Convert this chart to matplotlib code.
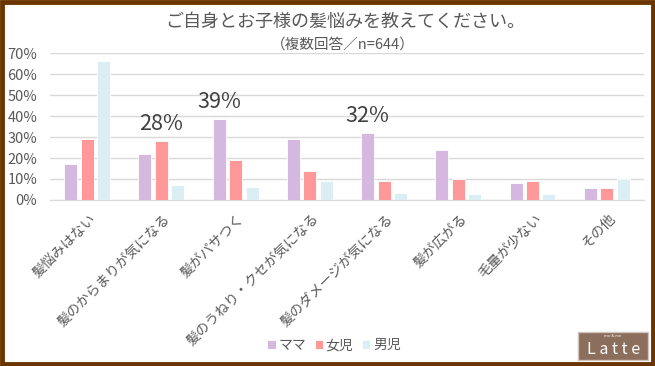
import matplotlib.pyplot as plt
import numpy as np
from matplotlib.patches import Rectangle

plt.rcParams['font.family'] = ['Noto Sans CJK JP', 'DejaVu Sans']

categories = ['髪悩みはない', '髪のからまりが気になる', '髪がパサつく', '髪のうねり・クセが気になる',
              '髪のダメージが気になる', '髪が広がる', '毛量が少ない', 'その他']
mama = [17, 22, 38.5, 29, 32, 24, 8, 5.5]
girl = [29, 28, 19, 14, 9, 10, 9, 5.5]
boy = [66, 7, 6, 9, 3.3, 3, 3, 10]
series_names = ['ママ', '女児', '男児']
# (系列番号, カテゴリ番号, ラベル)
highlights = [(1, 1, '28%'), (0, 2, '39%'), (0, 4, '32%')]

colors = ['#D5B8E0', '#FF9999', '#DAEEF3']
gray = '#595959'

fig = plt.figure(figsize=(6.55, 3.66), dpi=100)
ax = fig.add_axes([0.0763, 0.4536, 0.9067, 0.4014])

x = np.arange(len(categories))
w = 0.175
step = 0.222
data = [mama, girl, boy]
for i, (vals, c, name) in enumerate(zip(data, colors, series_names)):
    ax.bar(x + (i - 1) * step, vals, width=w, color=c, edgecolor='white', linewidth=0.6,
           label=name, zorder=3)

for s, k, txt in highlights:
    ax.text(x[k] + (s - 1) * step, data[s][k] + 8, txt, ha='center', va='center',
            fontsize=15.5, color='#404040', zorder=4)

ax.set_xlim(-0.5, 7.5)
ax.set_ylim(0, 70)
ax.set_yticks(range(0, 71, 10))
ax.set_yticklabels([f'{v}%' for v in range(0, 71, 10)], fontsize=10.5, color=gray)
ax.grid(axis='y', color='#D9D9D9', linewidth=1, zorder=0)
for sp in ['top', 'right', 'left']:
    ax.spines[sp].set_visible(False)
ax.spines['bottom'].set_color('#D9D9D9')
ax.tick_params(axis='both', length=0, pad=8)
ax.tick_params(axis='y', pad=9)
ax.set_xticks(x + 0.02)
ax.set_xticklabels(categories, rotation=45, ha='right', rotation_mode='anchor',
                   fontsize=10, color=gray)

fig.text(0.527, 0.94, 'ご自身とお子様の髪悩みを教えてください。', ha='center', va='center',
         fontsize=13, color=gray)
fig.text(0.523, 0.877, '（複数回答／n=644）', ha='center', va='center', fontsize=10.5, color=gray)

ax.legend(loc='center', bbox_to_anchor=(0.51, 0.057), bbox_transform=fig.transFigure, ncol=3,
          frameon=False, fontsize=10, handlelength=0.6, handleheight=0.6, handletextpad=0.2,
          columnspacing=0.6, labelcolor=gray)

# ロゴ
logo = Rectangle((0.882, 0.017), 0.108, 0.076, transform=fig.transFigure,
                 facecolor='#8C6E5D', edgecolor='#D0C4BC', linewidth=1)
fig.patches.append(logo)
fig.text(0.936, 0.045, 'L a t t e', ha='center', va='center', fontsize=11.5, color='white')
fig.text(0.936, 0.082, 'mo & me', ha='center', va='center', fontsize=3, color='white')

# 枠
frame = Rectangle((0.003, 0.005), 0.994, 0.99, transform=fig.transFigure, fill=False,
                  edgecolor='#6B3500', linewidth=3.5)
fig.patches.append(frame)

fig.savefig('out.png', dpi=100)
